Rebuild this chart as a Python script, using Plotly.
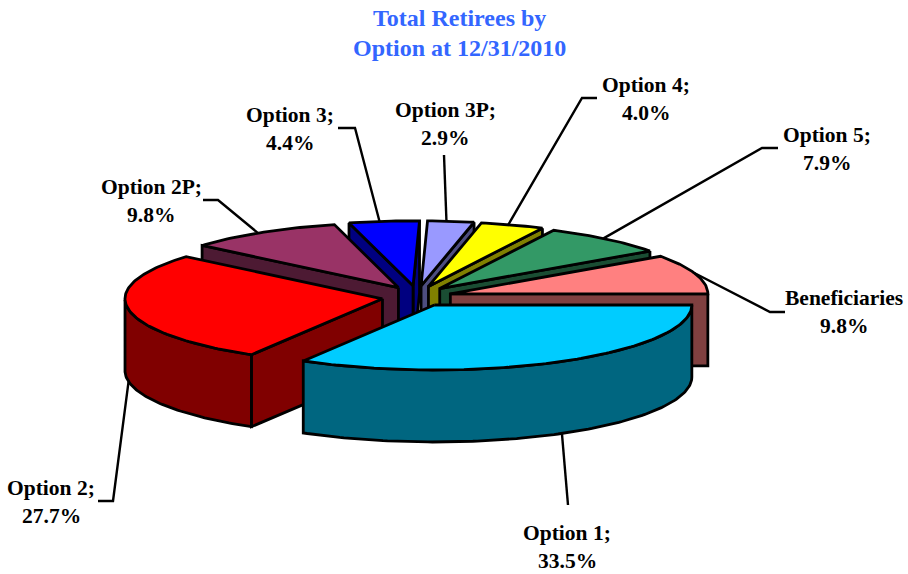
import math
import plotly.graph_objects as go

# ---- data ----
categories = ["Option 1", "Option 2", "Option 2P", "Option 3", "Option 3P", "Option 4", "Option 5", "Beneficiaries"]
shares = [33.5, 27.7, 9.8, 4.4, 2.9, 4.0, 7.9, 9.8]
top_colors = ["#00CCFF", "#FF0000", "#993366", "#0000FF", "#9999FF", "#FFFF00", "#339966", "#FF8080"]
wall_colors = ["#006680", "#800000", "#4D1A33", "#000080", "#4D4D80", "#808000", "#1A4D33", "#804040"]
title_lines = ["Total Retirees by", "Option at 12/31/2010"]

# ---- layout of the drawing (pixel space) ----
W, H = 908, 574
CX, CY = 417.0, 297.3
RX, RY = 257.5, 65
DEPTH = 72
EX, EY_FRONT, EY_BACK = 35, 8.85, 11.5
START = 0.0
LEADER_BACK_SHIFT = -1.0
label_xy = [(567, 533), (51, 488), (151, 187), (290, 115), (445, 110), (646, 85), (827, 135), (844, 298)]
line_gap = 28
elbows = [
    [(568, 505)],
    [(113, 501), (98, 501)],
    [(218, 200), (203, 200)],
    [(355, 128), (338, 128)],
    [(444, 155)],
    [(582, 98), (597, 98)],
    [(762, 148), (778, 148)],
    [(770, 312), (785, 312)],
]
INK = "#000000"
SERIF = "Liberation Serif"

fig = go.Figure()


def poly(xs, ys, color):
    fig.add_trace(go.Scatter(
        x=list(xs) + [xs[0]], y=list(ys) + [ys[0]], mode="lines", fill="toself",
        fillcolor=color, line=dict(color=INK, width=2.8), hoverinfo="skip", showlegend=False,
    ))


def pt(ax, ay, deg):
    r = math.radians(deg)
    return ax + RX * math.cos(r), ay + RY * math.sin(r)


slices = []
a = START
for i, s in enumerate(shares):
    a2 = a + s * 3.6
    mid = (a + a2) / 2
    r = math.radians(mid)
    ey = EY_FRONT if math.sin(r) > 0 else EY_BACK
    slices.append(dict(i=i, a1=a, a2=a2, mid=mid, ax=CX + EX * math.cos(r), ay=CY + ey * math.sin(r)))
    a = a2


def draw_slice(sl):
    ax, ay, a1, a2 = sl["ax"], sl["ay"], sl["a1"], sl["a2"]
    wall, top = wall_colors[sl["i"]], top_colors[sl["i"]]
    n = max(2, int(a2 - a1) + 1)
    degs = [a1 + (a2 - a1) * k / (n - 1) for k in range(n)]
    arc = [pt(ax, ay, d) for d in degs]

    def quad(p, q):
        poly([p[0], q[0], q[0], p[0]], [p[1], q[1], q[1] + DEPTH, p[1] + DEPTH], wall)

    # a wall shows when it runs right-to-left along the clockwise outline
    if arc[-1][0] > ax:
        quad(arc[-1], (ax, ay))
    if arc[0][0] < ax:
        quad((ax, ay), arc[0])
    run = []
    runs = []
    for d, p in zip(degs, arc):
        if math.sin(math.radians(d)) >= 0:
            run.append(p)
        elif run:
            runs.append(run)
            run = []
    if run:
        runs.append(run)
    for run in runs:
        if len(run) > 1:
            xs = [p[0] for p in run] + [p[0] for p in reversed(run)]
            ys = [p[1] for p in run] + [p[1] + DEPTH for p in reversed(run)]
            poly(xs, ys, wall)
    poly([ax] + [p[0] for p in arc], [ay] + [p[1] for p in arc], top)


for sl in sorted(slices, key=lambda s: math.sin(math.radians(s["mid"]))):
    draw_slice(sl)

# leader lines start on the slice's outer edge near its mid angle
for sl in slices:
    front = math.sin(math.radians(sl["mid"])) > 0
    x0, y0 = pt(sl["ax"], sl["ay"], sl["mid"] + (0 if front else LEADER_BACK_SHIFT))
    if front:
        y0 += DEPTH
    pts = [(x0, y0)] + elbows[sl["i"]]
    fig.add_trace(go.Scatter(
        x=[p[0] for p in pts], y=[p[1] for p in pts], mode="lines",
        line=dict(color=INK, width=2.4), hoverinfo="skip", showlegend=False,
    ))

annotations = []


def text(x, y, s, size, color):
    annotations.append(dict(x=x, y=y, text=s, showarrow=False, xref="x", yref="y", xanchor="center",
                            yanchor="middle", font=dict(family=SERIF, size=size, color=color)))


for i, (name, s) in enumerate(zip(categories, shares)):
    lx, ly = label_xy[i]
    heading = name if name == "Beneficiaries" else name + ";"
    text(lx, ly, f"<b>{heading}</b>", 21.5, "#000000")
    text(lx, ly + line_gap, f"<b>{s:.1f}%</b>", 21.5, "#000000")

text(459, 18, f"<b>{title_lines[0]}</b>", 24, "#3366FF")
text(459, 47.5, f"<b>{title_lines[1]}</b>", 24, "#3366FF")

fig.update_layout(
    width=W, height=H, margin=dict(l=0, r=0, t=0, b=0),
    paper_bgcolor="white", plot_bgcolor="white", annotations=annotations,
    xaxis=dict(range=[0, W], visible=False, fixedrange=True),
    yaxis=dict(range=[H, 0], visible=False, fixedrange=True),
)
fig.write_html(
    "out.html",
    config={"displayModeBar": False},
    post_script="document.body.style.margin='0';document.documentElement.style.overflow='hidden';",
)
